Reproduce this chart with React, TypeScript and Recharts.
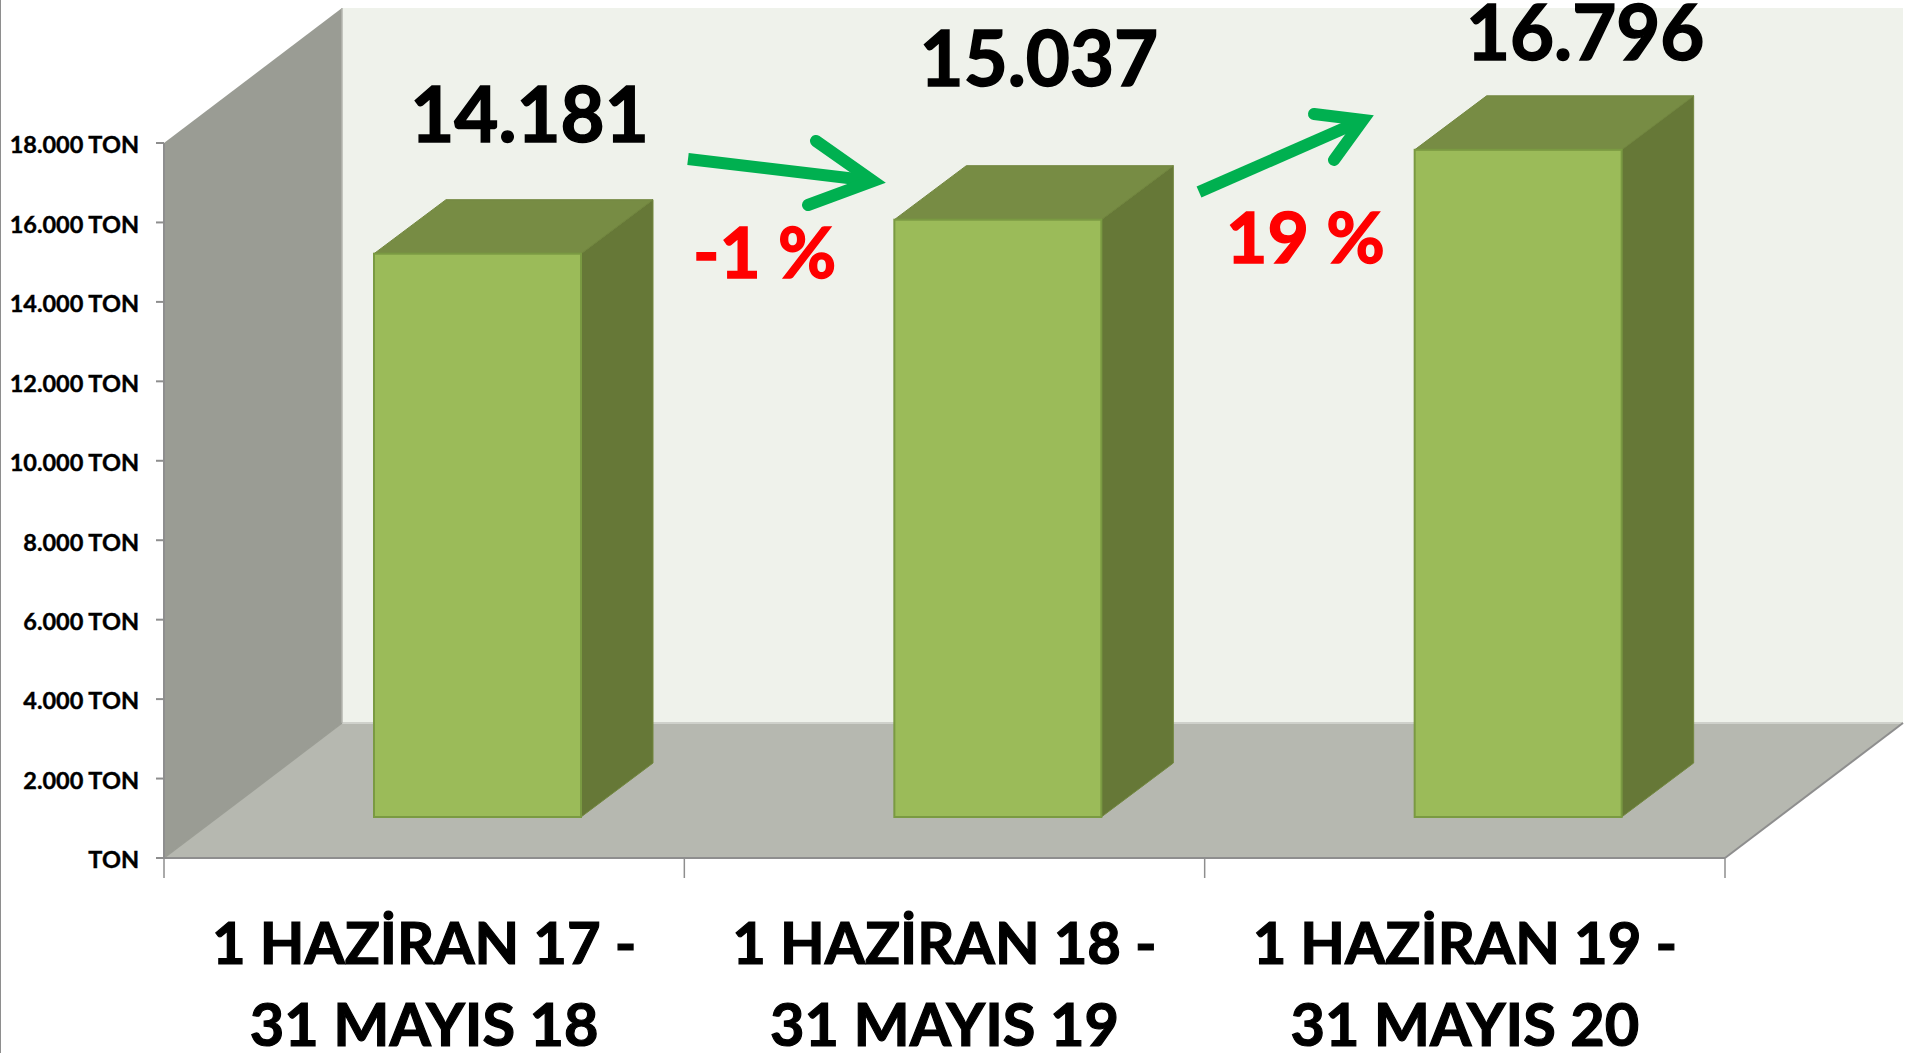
import { BarChart, Bar, XAxis, YAxis, LabelList, Customized } from 'recharts';

const periodStarts = ['1 HAZİRAN 17 -', '1 HAZİRAN 18 -', '1 HAZİRAN 19 -'];
const periodEnds = ['31 MAYIS 18', '31 MAYIS 19', '31 MAYIS 20'];
const tonnage = [14181, 15037, 16796];
const yTicks = [0, 2000, 4000, 6000, 8000, 10000, 12000, 14000, 16000, 18000];

const data = periodStarts.map((start, i) => ({ period: start + ' ' + periodEnds[i], start, end: periodEnds[i], tonnage: tonnage[i] }));

// picture layout, all in px
const WIDTH = 1905;
const HEIGHT = 1053;
const PLOT_LEFT = 164;
const PLOT_RIGHT = 1725;
const PLOT_TOP = 143;
const PLOT_BOTTOM = 858;
const WALL_DX = 178;
const WALL_DY = 135;
const WALL_TOP = 8;
const BAND = (PLOT_RIGHT - PLOT_LEFT) / 3;
// the bars stand part of the way back on the floor
const BAR_WIDTH = 207;
const BAR_SHIFT_X = 53;
const BAR_SHIFT_Y = 41;
const BAR_DX = 72;
const BAR_DY = 54;
const FONT = 'Lato, Carlito, sans-serif';

// hand placed value labels in the original, relative to the value position
const labelOffsets = [
  { dx: 105, dy: -153 },
  { dx: 94, dy: -175 },
  { dx: 120, dy: -131 },
];

const formatTon = (v: number) => String(v).replace(/\B(?=(\d{3})+$)/g, '.');

const Walls = () => {
  const bx = PLOT_LEFT + WALL_DX;
  const by = PLOT_BOTTOM - WALL_DY;
  const rx = PLOT_RIGHT + WALL_DX;
  return (
    <g>
      <rect x={bx} y={WALL_TOP} width={rx - bx} height={by - WALL_TOP} fill="#EFF2EB" />
      <polygon points={`${PLOT_LEFT},${PLOT_TOP} ${bx},${WALL_TOP} ${bx},${by} ${PLOT_LEFT},${PLOT_BOTTOM}`} fill="#9A9C94" />
      <polygon points={`${PLOT_LEFT},${PLOT_BOTTOM} ${bx},${by} ${rx},${by} ${PLOT_RIGHT},${PLOT_BOTTOM}`} fill="#B6B8B0" />
      <line x1={bx} y1={by} x2={rx} y2={by} stroke="#CFD1CB" strokeWidth={2} />
      <line x1={bx} y1={WALL_TOP} x2={bx} y2={by} stroke="#B4B6AF" strokeWidth={1.5} />
      <line x1={PLOT_LEFT} y1={PLOT_BOTTOM} x2={bx} y2={by} stroke="#9A9C94" strokeWidth={1.5} />
      <line x1={PLOT_RIGHT} y1={PLOT_BOTTOM} x2={rx} y2={by} stroke="#8E8E8E" strokeWidth={2} />
    </g>
  );
};

const Arrow = ({ tail, tip, headA, headB }: { tail: number[]; tip: number[]; headA: number[]; headB: number[] }) => (
  <g fill="none" stroke="#00B050" strokeWidth={12}>
    <line x1={tail[0]} y1={tail[1]} x2={tip[0]} y2={tip[1]} />
    <polyline
      points={`${headA[0]},${headA[1]} ${tip[0]},${tip[1]} ${headB[0]},${headB[1]}`}
      strokeLinecap="round"
      strokeLinejoin="miter"
      strokeMiterlimit={8}
    />
  </g>
);

const Annotations = () => (
  <g>
    <Arrow tail={[688, 159]} tip={[873, 181]} headA={[816, 141]} headB={[808, 205]} />
    <Arrow tail={[1199, 192]} tip={[1363, 120]} headA={[1314, 114]} headB={[1334, 160]} />
    <text x={693} y={278} fontFamily={FONT} fontWeight={700} fontSize={71} fill="#FF0000" stroke="#FF0000" strokeWidth={1.5}>-1 %</text>
    <text x={1226} y={263} fontFamily={FONT} fontWeight={700} fontSize={71.5} fill="#FF0000" stroke="#FF0000" strokeWidth={1.5}>19 %</text>
  </g>
);

const Column = (props: any) => {
  const x = props.x + BAR_SHIFT_X;
  const y = props.y - BAR_SHIFT_Y;
  const { width: w, height: h } = props;
  return (
    <g>
      <polygon
        points={`${x},${y} ${x + BAR_DX},${y - BAR_DY} ${x + w + BAR_DX},${y - BAR_DY} ${x + w},${y}`}
        fill="#778C44"
        stroke="#72873F"
      />
      <polygon
        points={`${x + w},${y} ${x + w + BAR_DX},${y - BAR_DY} ${x + w + BAR_DX},${y + h - BAR_DY} ${x + w},${y + h}`}
        fill="#667837"
        stroke="#72873F"
      />
      <rect x={x} y={y} width={w} height={h} fill="#9BBB59" stroke="#7A9A42" strokeWidth={2} />
    </g>
  );
};

const PeriodTick = (props: any) => {
  const { x, payload } = props;
  const i = payload.index;
  const left = x - BAND / 2;
  return (
    <g>
      <line x1={left} y1={PLOT_BOTTOM} x2={left} y2={PLOT_BOTTOM + 20} stroke="#8E8E8E" strokeWidth={1.5} />
      {i === periodStarts.length - 1 && (
        <line x1={x + BAND / 2} y1={PLOT_BOTTOM} x2={x + BAND / 2} y2={PLOT_BOTTOM + 20} stroke="#8E8E8E" strokeWidth={1.5} />
      )}
      <text x={x} y={964} textAnchor="middle" fontFamily={FONT} fontWeight={700} fontSize={58} fill="#000" stroke="#000" strokeWidth={1.2}>
        {periodStarts[i]}
      </text>
      <text x={x} y={1046} textAnchor="middle" fontFamily={FONT} fontWeight={700} fontSize={59.5} fill="#000" stroke="#000" strokeWidth={1.2}>
        {periodEnds[i]}
      </text>
    </g>
  );
};

const ValueLabel = (props: any) => {
  const { x, y, width, index, value } = props;
  const off = labelOffsets[index];
  return (
    <text x={x + width / 2 + off.dx} y={y + off.dy} textAnchor="middle" fontFamily={FONT} fontWeight={700} fontSize={76} fill="#000" stroke="#000" strokeWidth={1.5}>
      {formatTon(value)}
    </text>
  );
};

export default function App() {
  return (
    <div style={{ position: 'absolute', left: 0, top: 0, width: WIDTH, height: HEIGHT, background: '#fff', borderLeft: '1px solid #8E8E8E', boxSizing: 'border-box' }}>
      <div style={{ position: 'absolute', left: -1, top: 0 }}>
        <BarChart
          width={WIDTH}
          height={HEIGHT}
          data={data}
          margin={{ top: PLOT_TOP, right: WIDTH - PLOT_RIGHT, left: 0, bottom: 0 }}
        >
          <Customized component={Walls} />
          <XAxis
            dataKey="period"
            height={HEIGHT - PLOT_BOTTOM}
            interval={0}
            axisLine={{ stroke: '#8E8E8E', strokeWidth: 2 }}
            tickLine={false}
            tick={<PeriodTick />}
          />
          <YAxis
            width={PLOT_LEFT}
            domain={[0, 18000]}
            ticks={yTicks}
            interval={0}
            tickFormatter={(v: number) => (v === 0 ? 'TON' : formatTon(v) + ' TON')}
            axisLine={{ stroke: '#8E8E8E', strokeWidth: 2 }}
            tickLine={{ stroke: '#8E8E8E', strokeWidth: 2 }}
            tickSize={8}
            tickMargin={17}
            tick={{ fontFamily: FONT, fontWeight: 700, fontSize: 23.5, fill: '#000', stroke: '#000', strokeWidth: 0.4, dy: 2 }}
          />
          <Bar dataKey="tonnage" barSize={BAR_WIDTH} isAnimationActive={false} shape={<Column />}>
            <LabelList dataKey="tonnage" content={<ValueLabel />} />
          </Bar>
          <Customized component={Annotations} />
        </BarChart>
      </div>
    </div>
  );
}
